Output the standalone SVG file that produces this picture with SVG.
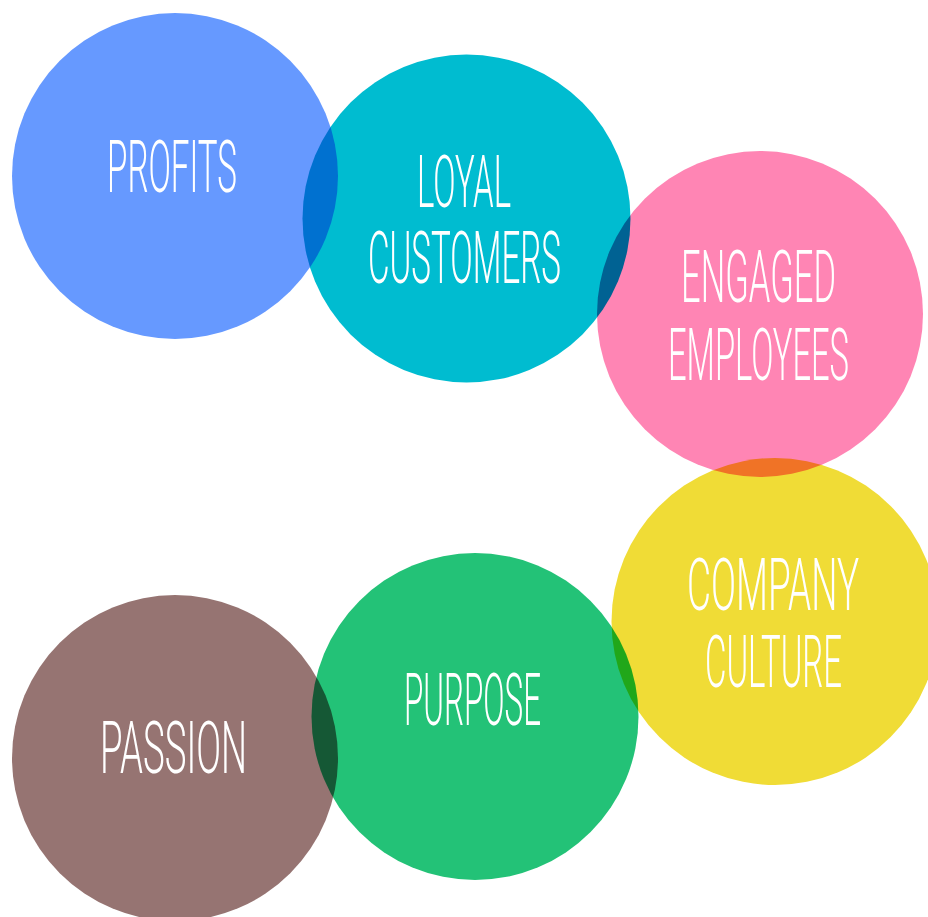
<svg xmlns="http://www.w3.org/2000/svg" width="928" height="917" viewBox="0 0 928 917">
  <style>
    .bubble { mix-blend-mode: multiply; }
    .label { fill: #ffffff; font-family: Roboto, "Liberation Sans", sans-serif; font-weight: 300; font-size: 73px; text-anchor: middle; }
  </style>
  <rect width="928" height="917" fill="#ffffff"/>
  <!-- labels are narrowed horizontally (scale 0.5) to get the tall condensed lettering -->
  <g style="isolation:isolate">
    <g id="profits">
      <circle class="bubble" cx="175" cy="176" r="163" fill="#6699ff"/>
      <text class="label" transform="translate(172 192) scale(0.5 1)" textLength="260" lengthAdjust="spacingAndGlyphs">PROFITS</text>
    </g>
    <g id="loyal-customers">
      <circle class="bubble" cx="466.5" cy="218.5" r="164" fill="#00bcd0"/>
      <text class="label" transform="translate(464 207) scale(0.5 1)" textLength="188" lengthAdjust="spacingAndGlyphs">LOYAL</text>
      <text class="label" transform="translate(464.5 283) scale(0.5 1)" textLength="386" lengthAdjust="spacingAndGlyphs">CUSTOMERS</text>
    </g>
    <g id="engaged-employees">
      <circle class="bubble" cx="760" cy="314" r="163" fill="#ff85b4"/>
      <text class="label" transform="translate(758.5 302) scale(0.5 1)" textLength="310" lengthAdjust="spacingAndGlyphs">ENGAGED</text>
      <text class="label" transform="translate(758.5 380) scale(0.5 1)" textLength="362" lengthAdjust="spacingAndGlyphs">EMPLOYEES</text>
    </g>
    <g id="company-culture">
      <circle class="bubble" cx="775" cy="621.5" r="163.5" fill="#f0dc36"/>
      <text class="label" transform="translate(773 610) scale(0.5 1)" textLength="344" lengthAdjust="spacingAndGlyphs">COMPANY</text>
      <text class="label" transform="translate(773.5 687) scale(0.5 1)" textLength="274" lengthAdjust="spacingAndGlyphs">CULTURE</text>
    </g>
    <g id="purpose">
      <circle class="bubble" cx="475" cy="716.5" r="163.5" fill="#23c277"/>
      <text class="label" transform="translate(472.5 725) scale(0.5 1)" textLength="274" lengthAdjust="spacingAndGlyphs">PURPOSE</text>
    </g>
    <g id="passion">
      <circle class="bubble" cx="175" cy="758" r="163" fill="#967472"/>
      <text class="label" transform="translate(173.5 773) scale(0.5 1)" textLength="294" lengthAdjust="spacingAndGlyphs">PASSION</text>
    </g>
  </g>
</svg>
